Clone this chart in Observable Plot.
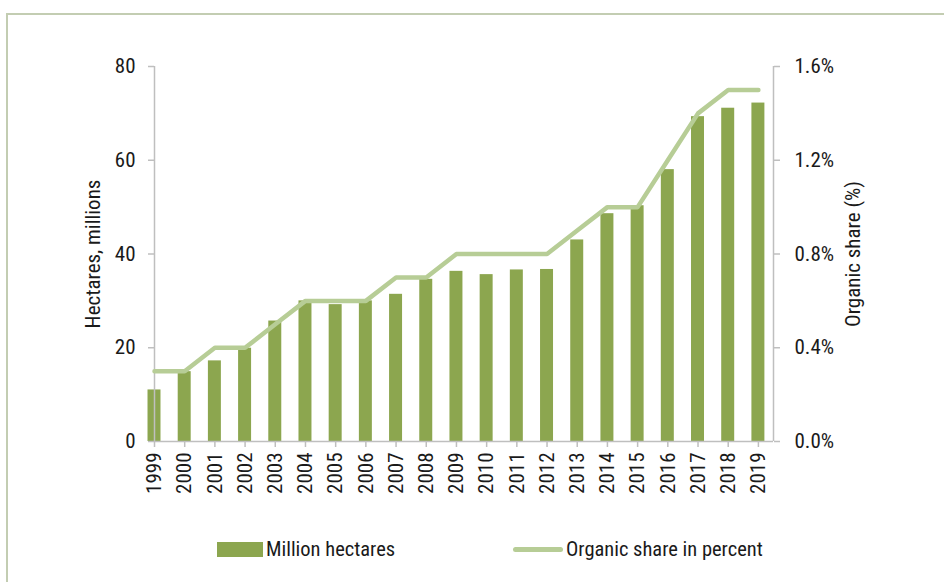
<!DOCTYPE html>
<html>
<head>
<meta charset="utf-8">
<script src="https://cdn.jsdelivr.net/npm/d3@7"></script>
<script src="https://cdn.jsdelivr.net/npm/@observablehq/plot@0.6"></script>
<style>
  html, body { margin: 0; padding: 0; background: #fff; }
  #wrap { position: relative; width: 944px; height: 582px; overflow: hidden; font-family: "Roboto Condensed", "Liberation Sans Narrow", sans-serif; color: #1a1a1a; }
  #frame { position: absolute; left: 6px; top: 13px; width: 960px; height: 600px; border: 2px solid #c3cdb2; box-sizing: border-box; }
  #chart { position: absolute; left: 0; top: 0; }
  #legend { position: absolute; top: 537px; left: 0; width: 944px; height: 24px; font-size: 20.5px; }
  .item { position: absolute; top: 0; display: flex; align-items: center; height: 24px; }
  .sw-bar { width: 46px; height: 15px; background: #8ca64f; margin-right: 3px; }
  .sw-line { width: 50px; height: 5px; border-radius: 3px; background: #b7cd96; margin-right: 3px; }
</style>
</head>
<body>
<div id="wrap">
  <div id="frame"></div>
  <div id="chart"></div>
  <div id="legend">
    <div class="item" style="left:217px"><div class="sw-bar"></div><span>Million hectares</span></div>
    <div class="item" style="left:513px"><div class="sw-line"></div><span>Organic share in percent</span></div>
  </div>
</div>
<script>
const years = [1999,2000,2001,2002,2003,2004,2005,2006,2007,2008,2009,2010,2011,2012,2013,2014,2015,2016,2017,2018,2019];
const hectares = [11.0,14.9,17.2,19.9,25.7,30.0,29.2,30.0,31.4,34.6,36.3,35.6,36.6,36.7,43.0,48.6,50.3,58.0,69.3,71.1,72.2];
const sharePct = [0.3,0.3,0.4,0.4,0.5,0.6,0.6,0.6,0.7,0.7,0.8,0.8,0.8,0.8,0.9,1.0,1.0,1.2,1.4,1.5,1.5];
const leftTicks = [0,20,40,60,80];
const rightTickLabels = ["0.0%","0.4%","0.8%","1.2%","1.6%"];

const leftMax = 80, rightMax = 1.6;
const ratio = leftMax / rightMax;
const data = years.map((y, i) => ({year: y, ha: hectares[i], share: sharePct[i]}));

const axisColor = "#bfbfbf";
const textColor = "#1a1a1a";

const chart = Plot.plot({
  width: 944,
  height: 520,
  marginLeft: 154,
  marginRight: 171,
  marginTop: 66,
  marginBottom: 79,
  style: {fontFamily: '"Roboto Condensed", "Liberation Sans Narrow", sans-serif', fontSize: "21px", color: textColor, background: "transparent"},
  x: {type: "linear", domain: [1999, 2019.5]},
  y: {domain: [0, leftMax]},
  marks: [
    Plot.rectY(data, {x1: d => d.year - 0.215, x2: d => d.year + 0.215, y1: 0, y2: "ha", fill: "#8ca64f"}),
    Plot.ruleX([1999, 2019.5], {stroke: axisColor, strokeWidth: 1.5}),
    Plot.ruleY([0], {stroke: axisColor, strokeWidth: 1.5}),
    Plot.line(data, {x: "year", y: d => d.share * ratio, stroke: "#b7cd96", strokeWidth: 4.5, strokeLinecap: "round"}),
    Plot.axisY({anchor: "left", ticks: leftTicks, tickSize: 6, tickPadding: 13, stroke: axisColor, strokeWidth: 1.5, fill: textColor, label: null}),
    Plot.axisY({anchor: "right", ticks: leftTicks, tickSize: 6, tickPadding: 15, stroke: axisColor, strokeWidth: 1.5, fill: textColor, label: null,
      tickFormat: d => rightTickLabels[leftTicks.indexOf(d)]}),
    Plot.axisX({ticks: years, tickSize: 6, tickPadding: 5, tickRotate: -90, stroke: axisColor, strokeWidth: 1.5, fill: textColor, label: null, tickFormat: d => String(d)}),
    Plot.text(["Hectares, millions"], {frameAnchor: "left", dx: -61, rotate: -90, textAnchor: "middle", fill: textColor, fontSize: 21}),
    Plot.text(["Organic share (%)"], {frameAnchor: "right", dx: 80, rotate: -90, textAnchor: "middle", fill: textColor, fontSize: 21})
  ]
});
document.getElementById("chart").appendChild(chart);
</script>
</body>
</html>
